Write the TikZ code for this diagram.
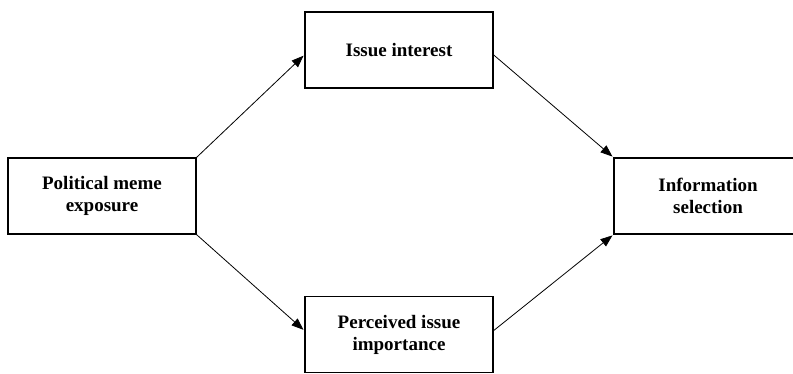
\documentclass[tikz,border=0pt]{standalone}
\usepackage{fontspec}
\setmainfont{Liberation Serif}
\usetikzlibrary{arrows.meta}
\begin{document}
\begin{tikzpicture}[x=1pt,y=-1pt,
  box/.style={draw, line width=1.5pt, minimum width=188pt, minimum height=76pt,
    inner sep=0pt, align=center, font=\fontsize{19}{22}\selectfont\bfseries},
  arr/.style={line width=0.8pt, -{Triangle[length=12pt,width=9pt]}, shorten >=1pt}]
\useasboundingbox (0,0) rectangle (793,373);
\clip (0,0) rectangle (793,373);
\node[box] (pme) at (102,196) {Political meme\\exposure};
\node[box] (ii) at (399,50) {Issue interest};
\node[box] (pii) at (399,334.5) {Perceived issue\\importance};
\node[box] (is) at (708,196) {Information\\selection};
\draw[arr] (pme.north east) -- ([yshift=-5pt]ii.west);
\draw[arr] (pme.south east) -- ([yshift=4pt]pii.west);
\draw[arr] ([yshift=-5pt]ii.east) -- (is.north west);
\draw[arr] ([yshift=4pt]pii.east) -- (is.south west);
\end{tikzpicture}
\end{document}
